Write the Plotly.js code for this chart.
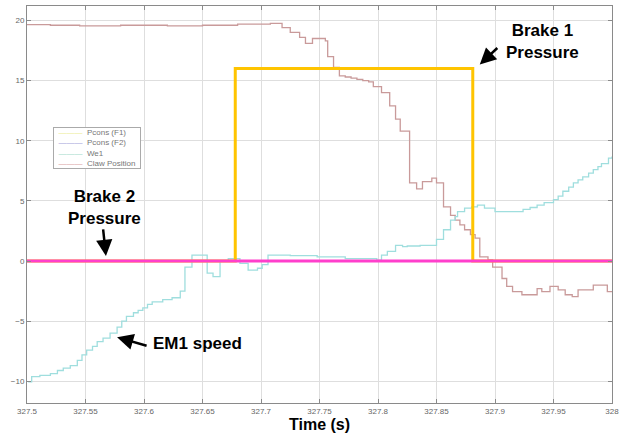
<!DOCTYPE html>
<html><head><meta charset="utf-8">
<script src="https://cdn.plot.ly/plotly-3.0.1.min.js"></script>
<style>html,body{margin:0;padding:0;background:#fff}#chart{width:624px;height:438px}</style>
</head><body><div id="chart"></div>
<script>
// Pcons (F1) - Brake 1 pressure (step)
const f1Time = [327.5, 327.678, 327.881, 328.0];
const f1Val  = [0, 16, 0, 0];
// Pcons (F2) - Brake 2 pressure
const f2Time = [327.5, 328.0];
const f2Val  = [0, 0];
// We1 - EM1 speed (step)
const weTime = [327.501,327.504,327.511,327.520,327.526,327.531,327.537,327.543,327.547,327.551,327.556,327.560,327.565,327.571,327.577,327.581,327.585,327.591,327.595,327.599,327.603,327.607,327.616,327.624,327.631,327.635,327.641,327.654,327.659,327.665,327.672,327.682,327.689,327.697,327.701,327.706,327.725,327.748,327.772,327.799,327.803,327.808,327.815,327.821,327.825,327.836,327.850,327.856,327.862,327.866,327.868,327.874,327.880,327.885,327.891,327.900,327.915,327.924,327.930,327.936,327.942,327.950,327.954,327.958,327.963,327.967,327.971,327.975,327.980,327.984,327.988,327.991,327.997,328.000];
const weVal  = [-10.05,-9.6,-9.5,-9.35,-9.1,-8.9,-8.7,-8.25,-7.8,-7.4,-7.1,-6.7,-6.4,-6.0,-5.5,-5.0,-4.6,-4.3,-4.1,-3.9,-3.6,-3.4,-3.2,-3.05,-2.5,-0.5,0.5,-1.0,-1.3,0.0,0.2,-0.2,-0.75,-0.6,-0.3,0.5,0.45,0.35,0.2,0.08,0.5,0.8,1.3,1.2,1.25,1.3,1.8,2.6,3.4,3.7,4.1,4.4,4.5,4.65,4.4,4.1,4.1,4.3,4.45,4.65,4.85,5.1,5.4,5.8,6.15,6.5,6.75,7.0,7.3,7.6,7.85,8.1,8.55,8.7];
// Claw Position (step)
const clawTime = [327.500,327.520,327.545,327.580,327.620,327.650,327.680,327.708,327.718,327.725,327.733,327.738,327.744,327.755,327.757,327.762,327.767,327.772,327.777,327.782,327.787,327.792,327.796,327.803,327.810,327.815,327.819,327.827,327.833,327.838,327.846,327.850,327.856,327.862,327.866,327.870,327.874,327.879,327.883,327.887,327.894,327.898,327.906,327.910,327.915,327.923,327.936,327.940,327.947,327.954,327.960,327.966,327.971,327.984,327.996,328.000];
const clawVal  = [19.65,19.6,19.55,19.6,19.55,19.6,19.7,19.75,19.4,19.0,18.6,18.1,18.5,18.3,17.0,16.1,15.4,15.3,15.2,15.1,15.0,14.9,14.5,14.0,12.9,11.8,10.8,6.5,6.0,6.6,6.9,6.5,4.5,3.8,3.4,3.0,2.6,2.2,1.9,0.35,0.1,-0.5,-1.45,-2.1,-2.55,-2.8,-2.3,-2.55,-2.1,-2.4,-2.8,-2.95,-2.4,-2.0,-2.55,-2.55];

const legendNames = ['Pcons (F1)','Pcons (F2)','We1','Claw Position'];
const legendColors = ['#ecec90','#a0a0d8','#a0d8c8','#d8a0a0'];
const xTicks = [327.5,327.55,327.6,327.65,327.7,327.75,327.8,327.85,327.9,327.95,328];
const xTickText = ['327.5','327.55','327.6','327.65','327.7','327.75','327.8','327.85','327.9','327.95','328'];
const yTicks = [-10,-5,0,5,10,15,20];

const traces = [
  {x: clawTime, y: clawVal, name:legendNames[3], mode:'lines', line:{shape:'hv', color:'#c99a9a', width:1.3}},
  {x: weTime, y: weVal, name:legendNames[2], mode:'lines', line:{shape:'hv', color:'#9fdede', width:1.3}},
  {x: f1Time, y: f1Val, name:legendNames[0], mode:'lines', line:{shape:'hv', color:'#ffc400', width:3}},
  {x: f2Time, y: f2Val, name:legendNames[1], mode:'lines', line:{color:'#ff3fcc', width:3}}
];

const legendText = legendNames.map((n,i)=>'  <span style="color:'+legendColors[i]+'">———</span>  '+n+'  ').join('<br>');

const font = 'Arial, "Liberation Sans", sans-serif';
const bold = {size:17, color:'#000', family:font};
const layout = {
  width:624, height:438,
  margin:{l:27, r:12, t:6, b:35},
  paper_bgcolor:'#fff', plot_bgcolor:'#fff',
  font:{family:font, color:'#555', size:8},
  showlegend:false,
  xaxis:{range:[327.5,328], tickvals:xTicks, ticktext:xTickText, showgrid:true, gridcolor:'#dedede', gridwidth:1,
         zeroline:false, showline:true, linecolor:'#8a8a8a', linewidth:1, mirror:'ticks', ticks:'inside', ticklen:4, tickcolor:'#8a8a8a',
         tickfont:{size:8, color:'#666'},
         title:{text:'<b>Time (s)</b>', font:{size:16, color:'#000', family:font}, standoff:3}},
  yaxis:{range:[-11.8,21.2], tickvals:yTicks, showgrid:true, gridcolor:'#dedede', gridwidth:1,
         zeroline:false, showline:true, linecolor:'#8a8a8a', linewidth:1, mirror:'ticks', ticks:'inside', ticklen:4, tickcolor:'#8a8a8a',
         tickfont:{size:8, color:'#666'}},
  annotations:[
    {xref:'paper', yref:'paper', x:(53-27)/585, y:(403-127)/397, xanchor:'left', yanchor:'top', text:legendText, align:'left',
     showarrow:false, font:{size:8, color:'#777', family:font}, bgcolor:'#fff', bordercolor:'#aaa', borderwidth:1, borderpad:0},
    {xref:'paper', yref:'paper', x:(542-27)/585, y:(403-42)/397, xanchor:'center', yanchor:'middle', text:'<b>Brake 1<br>Pressure</b>', showarrow:false, font:bold, align:'center'},
    {x:327.887, y:16.33, ax:19, ay:-18, text:'', showarrow:true, arrowhead:2, arrowsize:1.3, arrowwidth:2.5, arrowcolor:'#000'},
    {xref:'paper', yref:'paper', x:(104-27)/585, y:(403-207)/397, xanchor:'center', yanchor:'middle', text:'<b>Brake 2<br>Pressure</b>', showarrow:false, font:bold, align:'center'},
    {x:327.5675, y:0.42, ax:-3, ay:-28, text:'', showarrow:true, arrowhead:2, arrowsize:1.3, arrowwidth:2.5, arrowcolor:'#000'},
    {xref:'paper', yref:'paper', x:(197-27)/585, y:(403-343)/397, xanchor:'center', yanchor:'middle', text:'<b>EM1 speed</b>', showarrow:false, font:bold},
    {x:327.577, y:-6.33, ax:31, ay:9, text:'', showarrow:true, arrowhead:2, arrowsize:1.3, arrowwidth:2.5, arrowcolor:'#000'}
  ]
};
Plotly.newPlot('chart', traces, layout, {displayModeBar:false, staticPlot:true});
</script></body></html>
